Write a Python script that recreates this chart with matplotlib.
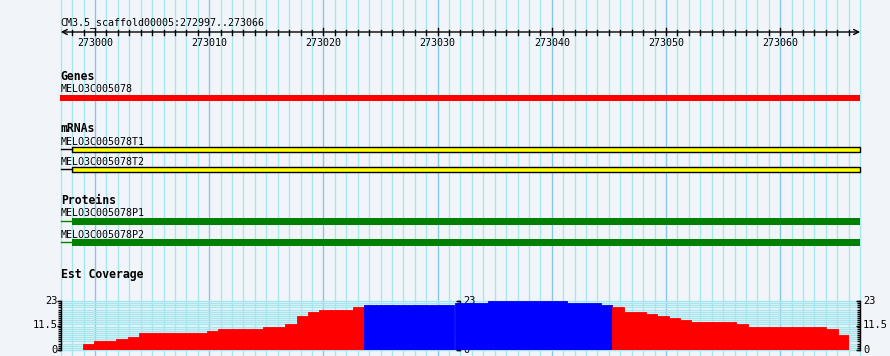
import matplotlib
matplotlib.use("Agg")
import matplotlib.pyplot as plt
import matplotlib.transforms as mtransforms
from matplotlib.patches import Rectangle
import numpy as np

# region shown (bp), ruler labels
region_start = 272997
region_end = 273067
title = "CM3.5_scaffold00005:272997..273066"
ruler_labels = [273000, 273010, 273020, 273030, 273040, 273050, 273060]

# features
gene_name = "MELO3C005078"
mrna_names = ["MELO3C005078T1", "MELO3C005078T2"]
protein_names = ["MELO3C005078P1", "MELO3C005078P2"]
feat_start = 272997
body_start = 272998
feat_end = 273067

# est coverage, one value per bp starting at region_start
coverage = [0, 0, 3, 4, 4, 5, 6, 8, 8, 8, 8, 8, 8, 9, 10, 10, 10, 10, 11, 11,
            12, 16, 18, 19, 19, 19, 20, 21, 21, 21, 21, 21, 21, 21, 21, 22,
            22, 22, 23, 23, 23, 23, 23, 23, 23, 22, 22, 22, 21, 20, 18, 18,
            17, 16, 15, 14, 13, 13, 13, 13, 12, 11, 11, 11, 11, 11, 11, 11,
            10, 7]
cov_max = 23
cov_pivot = 20
cov_ticks = [0, 11.5, 23]

bg = "#f1f5fa"
grid_minor = "#a6e6ee"
grid_major = "#86c6e6"
mono = "DejaVu Sans Mono"

fig = plt.figure(figsize=(8.9, 3.56), dpi=100, facecolor=bg)
ax = fig.add_axes([0, 0, 1, 1])
bp_px = 11.42
ax.set_xlim(273000 - 95 / bp_px, 273000 + 795 / bp_px)
ax.set_ylim(356, 0)
ax.axis("off")

# vertical grid, one line per bp, darker every 10
for p in range(region_start, region_end + 1):
    c = grid_major if p % 10 == 0 else grid_minor
    ax.axvline(p, color=c, lw=1, zorder=0)

# ruler
ax.text(region_start, 25, title, family=mono, fontsize=7.2, va="baseline")
ax.annotate("", xy=(region_start, 32), xytext=(region_end, 32),
            arrowprops=dict(arrowstyle="<->", lw=1, color="black",
                            mutation_scale=9, shrinkA=0, shrinkB=0))
for p in range(region_start + 1, region_end):
    top = 28 if p % 10 == 0 else 30
    ax.plot([p, p], [top, 34.5], color="black", lw=1)
for p in ruler_labels:
    ax.text(p, 46, str(p), family=mono, fontsize=7.2, ha="center", va="baseline")

# genes
ax.text(region_start, 80, "Genes", family=mono, fontsize=8.3,
        fontweight="bold", va="baseline")
ax.text(region_start, 92, gene_name, family=mono, fontsize=7.2, va="baseline")
ax.add_patch(Rectangle((feat_start - 0.1, 95), feat_end - feat_start + 0.1, 6,
                       fc="#ff0000", ec="none"))

# mRNAs
ax.text(region_start, 132, "mRNAs", family=mono, fontsize=8.3,
        fontweight="bold", va="baseline")
for name, base in zip(mrna_names, [145, 165]):
    ax.text(region_start, base, name, family=mono, fontsize=7.2, va="baseline")
    ax.plot([feat_start, body_start], [base + 4, base + 4], color="black", lw=1)
    ax.add_patch(Rectangle((body_start, base + 2), feat_end - body_start, 5,
                           fc="#ffff00", ec="black", lw=1))

# proteins
ax.text(region_start, 204, "Proteins", family=mono, fontsize=8.3,
        fontweight="bold", va="baseline")
for name, base in zip(protein_names, [216.5, 237.5]):
    ax.text(region_start, base, name, family=mono, fontsize=7.2, va="baseline")
    ax.plot([feat_start, body_start], [base + 4.5, base + 4.5], color="#008000", lw=1)
    ax.add_patch(Rectangle((body_start, base + 1.5), feat_end - body_start, 7,
                           fc="#008000", ec="none"))

# est coverage
ax.text(region_start, 278, "Est Coverage", family=mono, fontsize=8.3,
        fontweight="bold", va="baseline")
cax = fig.add_axes([60 / 890, 6 / 356, 789 / 890, 49 / 356])
cax.set_xlim(region_start, region_start + len(coverage))
cax.set_ylim(0, cov_max)
cax.axis("off")
cax.patch.set_alpha(0)

blend = mtransforms.blended_transform_factory(ax.transData, cax.transData)
ax.hlines(np.arange(0, cov_max + 1), region_start, region_end,
          colors=grid_minor, lw=1, transform=blend, zorder=1)

xs = np.arange(region_start, region_start + len(coverage))
cols = ["#0000ff" if v > cov_pivot else "#ff0000" for v in coverage]
cax.bar(xs, coverage, width=1.0, align="edge", color=cols, edgecolor=cols,
        lw=0.6, zorder=2)

# scales: left, middle, right
mid = (region_start + region_end) / 2
minor = np.arange(0, cov_max + 1)
for xpos, side in [(region_start, "left"), (mid, "right"), (region_end, "right")]:
    ax.plot([xpos, xpos], [0, cov_max], color="black", lw=1, transform=blend,
            zorder=5, clip_on=False)
    ax.plot([xpos] * len(minor), minor, ls="none", marker=0, ms=2.2, mew=1,
            color="black", transform=blend, zorder=5, clip_on=False)
    ax.plot([xpos] * len(cov_ticks), cov_ticks, ls="none", marker=0, ms=3.2,
            mew=1, color="black", transform=blend, zorder=5, clip_on=False)
    if side == "left":
        tr = mtransforms.offset_copy(blend, fig=fig, x=-3, y=0, units="dots")
        ha = "right"
    else:
        tr = mtransforms.offset_copy(blend, fig=fig, x=3, y=0, units="dots")
        ha = "left"
    for t in cov_ticks:
        lab = "11.5" if t == 11.5 else str(int(t))
        ax.text(xpos, t, lab, family=mono, fontsize=7.5, ha=ha,
                va="center", transform=tr, zorder=6)

fig.savefig("out.png", dpi=100, facecolor=bg)
